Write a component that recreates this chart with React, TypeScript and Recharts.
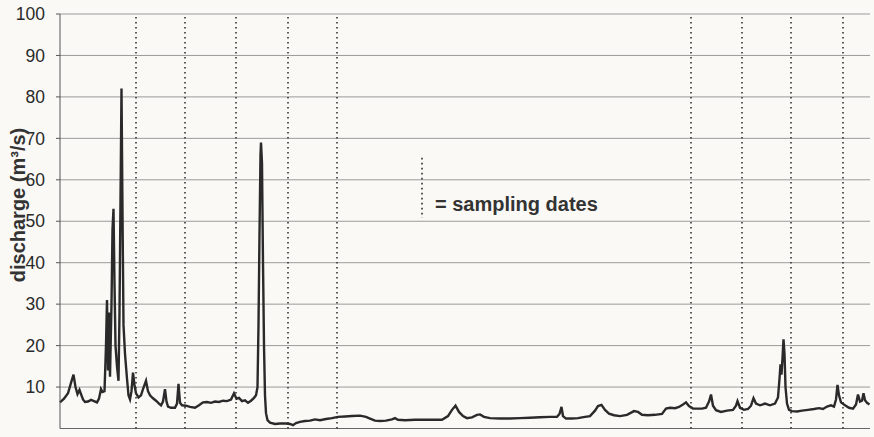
import { LineChart, Line, XAxis, YAxis, CartesianGrid, ReferenceLine } from "recharts";

// day index along the record (0 = first day shown) and discharge in m³/s
const days = [
  0, 2, 4, 5.5, 6.75, 7.75, 8.75, 9.75, 10.5, 11.5, 12.5, 14, 15.5, 17, 18.5, 19.5, 20.5, 21.25, 22.25, 23,
  23.5, 24, 24.5, 25, 25.75, 26.25, 26.75, 27.25, 27.75, 28.5, 29.25, 29.75, 30.25, 30.75, 31.25, 31.75, 32.5,
  33.5, 34.25, 35, 35.75, 36.5, 37.25, 38, 39.25, 40.5, 41.5, 43, 44, 45, 46.5, 48, 49.5, 50.5, 51.5, 52.5,
  53.25, 54, 55.5, 57.5, 58.5, 59.25, 60, 61, 63, 65, 67.5, 69.5, 71.5, 73.5, 75.5, 77.5, 79.5, 81.5, 83.5,
  85.5, 87, 88.25, 89.5, 91, 92.5, 94, 95.5, 97, 98, 98.75, 99.25, 99.75, 100.25, 100.5, 101, 101.5, 102,
  102.5, 103, 103.75, 105, 107.5, 110, 113, 115, 116.5, 118, 120, 122.5, 125, 127.5, 130, 133, 136, 139,
  142.5, 146, 150, 153, 155, 157.5, 160, 163, 166, 167.5, 169, 172.5, 177.5, 185, 191, 194, 196, 197.75,
  199.5, 201.5, 203.5, 206, 208.5, 210, 212, 215, 220, 225, 230, 235, 240, 245, 248.5, 249.75, 250.75, 251.5,
  253, 256, 259, 262.5, 265, 267.5, 269, 270.75, 272.5, 274.5, 277, 280, 283.5, 287, 289, 291, 294, 297.5,
  301, 303, 305, 307.5, 309.5, 311.5, 313, 314.5, 316.5, 318.5, 321, 323, 324.5, 325.5, 326.5, 328, 330.5,
  333.5, 336.5, 338, 338.75, 340, 342, 344, 345.5, 346.75, 348, 350, 352.5, 355, 357.5, 359, 359.75, 360.25,
  360.75, 361.25, 361.75, 362.25, 362.75, 363.5, 364.5, 366, 368.5, 371, 374, 377, 379.5, 381.5, 383.5,
  385.5, 387, 388, 388.75, 389.5, 390.5, 392.5, 394.5, 396.5, 398, 399, 400, 401, 401.75, 402.5, 403.5, 404.75,
];

const discharge = [
  6.3, 7.2, 8.5, 11, 13, 10, 8.3, 9.3, 8.3, 7, 6.4, 6.5, 6.9, 6.6, 6.3, 7.2, 9.5, 8.8, 9, 20,
  31, 14, 28, 12.5, 30, 48, 53, 35, 20, 15, 11.5, 28, 55, 82, 52, 25, 18,
  12, 8, 7, 9, 13.5, 10.5, 8.5, 7.5, 8, 9.5, 11.5, 9, 8, 7.3, 6.7, 6, 5.6, 6.5, 9.5,
  6.5, 5.3, 5, 5, 6, 10.8, 6.2, 5.6, 5.5, 5.2, 5, 5.6, 6.3, 6.4, 6.2, 6.5, 6.4, 6.7, 6.6,
  7, 8.5, 7.2, 7.4, 6.6, 6.8, 6.2, 6.7, 7.4, 8, 10, 25, 47, 66, 69, 64, 40, 20,
  8, 3.7, 2, 1.4, 1.1, 1.2, 1.2, 1.1, 0.8, 1.3, 1.6, 1.8, 1.9, 2.2, 2.0, 2.3, 2.5, 2.8,
  2.9, 3, 3.1, 2.8, 2.4, 1.9, 1.8, 1.9, 2.2, 2.5, 2.1, 2.0, 2.1, 2.1, 2.1, 3, 4.5, 5.5,
  4, 3, 2.5, 2.7, 3.3, 3.4, 2.8, 2.5, 2.4, 2.4, 2.5, 2.6, 2.7, 2.8, 2.8, 3.5, 5.2, 3,
  2.4, 2.4, 2.5, 2.8, 3, 4.3, 5.4, 5.7, 4.5, 3.6, 3.2, 3.0, 3.3, 4.2, 4.0, 3.3, 3.2, 3.3,
  3.5, 4.8, 5, 4.9, 5.2, 5.8, 6.3, 5.4, 4.8, 4.8, 4.8, 5, 6.5, 8.2, 5.5, 4.4, 4.0,
  4.3, 4.5, 5.5, 6.6, 5, 4.5, 4.7, 5.5, 7.3, 6, 5.6, 6, 5.6, 6, 7.5, 12, 15.5,
  13, 17, 21.5, 18, 10, 6, 4.5, 4.2, 4.1, 4.3, 4.5, 4.7, 4.9, 4.7, 5.3,
  5.6, 5.3, 7, 10.5, 8, 6.3, 5.6, 5, 4.8, 5.8, 8.2, 6.5, 6.7, 8.5, 6.8, 6.2, 5.8,
];

const samplingDays = [38, 62.5, 88, 114, 138.5, 315.5, 341, 365.5, 391.5];
const yTicks = [0, 10, 20, 30, 40, 50, 60, 70, 80, 90, 100];

const data = days.map((d, i) => ({ day: d, q: discharge[i] }));

const font = '"Liberation Sans", Arial, sans-serif';
const ink = "#333";

const App = () => {
  return (
    <div style={{ position: "relative", width: 874, height: 437, background: "#faf9f5", fontFamily: font }}>
      <style>{`body{margin:0}`}</style>
      <LineChart width={874} height={437} data={data} margin={{ top: 14, right: 4, bottom: 8.5, left: 0 }}>
        <CartesianGrid horizontal vertical={false} stroke="#9a9a9a" strokeWidth={1} />
        <XAxis type="number" dataKey="day" domain={[0, 405]} hide />
        <YAxis
          type="number"
          domain={[0, 100]}
          ticks={yTicks}
          width={60}
          tickSize={4}
          tickMargin={11}
          axisLine={{ stroke: "#555" }}
          tickLine={{ stroke: "#555" }}
          tick={{ fill: "#2a2a2a", fontSize: 17.5, fontFamily: font }}
        />
        <ReferenceLine y={0} stroke="#666" strokeWidth={1} />
        {samplingDays.map((d) => (
          <ReferenceLine key={d} x={d} stroke={ink} strokeWidth={1.6} strokeDasharray="1.6 3.4" />
        ))}
        <ReferenceLine
          segment={[
            { x: 181, y: 65.3 },
            { x: 181, y: 50.8 },
          ]}
          stroke={ink}
          strokeWidth={1.6}
          strokeDasharray="1.6 3.4"
        />
        <Line
          type="linear"
          dataKey="q"
          stroke="#2a2a2a"
          strokeWidth={2.4}
          dot={false}
          isAnimationActive={false}
        />
      </LineChart>
      <svg
        width={874}
        height={437}
        style={{ position: "absolute", left: 0, top: 0, pointerEvents: "none" }}
      >
        <text
          transform="translate(25,205) rotate(-90)"
          textAnchor="middle"
          fontSize={20}
          fontWeight="bold"
          fill={ink}
          fontFamily={font}
        >
          discharge (m³/s)
        </text>
        <text x={435} y={210.5} fontSize={20} fontWeight="bold" fill={ink} fontFamily={font}>
          = sampling dates
        </text>
      </svg>
    </div>
  );
};

export default App;
